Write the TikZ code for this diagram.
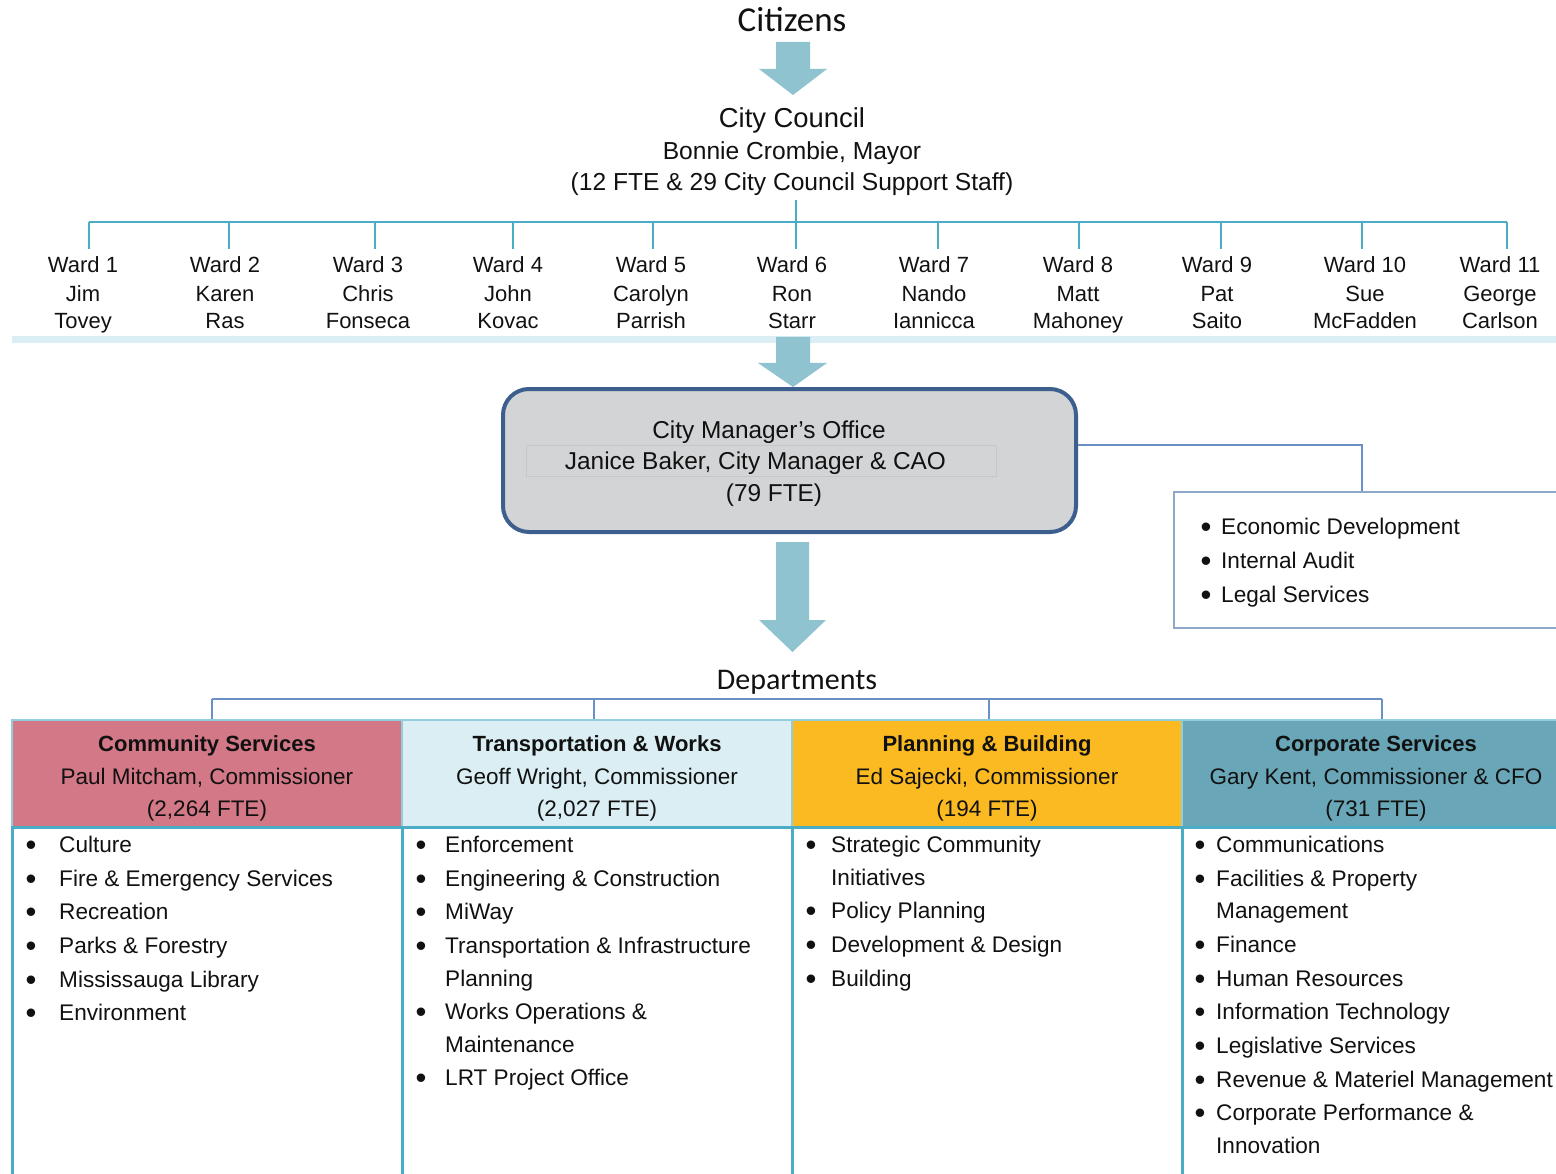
\documentclass[tikz,border=0pt]{standalone}
\usepackage{fontspec}
\setmainfont{Liberation Sans}
\newfontfamily\calib{Carlito}
\definecolor{arrowc}{HTML}{8FC3D0}
\definecolor{tlinec}{HTML}{4BACC6}
\definecolor{barc}{HTML}{DAEEF3}
\definecolor{cmofill}{HTML}{D3D4D6}
\definecolor{cmoline}{HTML}{3D5F8E}
\definecolor{sidelc}{HTML}{8EA8CC}
\definecolor{connc}{HTML}{6A90C6}
\definecolor{pinkc}{HTML}{D37887}
\definecolor{lightc}{HTML}{DAEEF3}
\definecolor{yellc}{HTML}{FBBA22}
\definecolor{tealc}{HTML}{69A7B8}
\definecolor{hdrline}{HTML}{92CDDC}
\definecolor{txtc}{HTML}{111111}
\begin{document}
\begin{tikzpicture}[x=1pt,y=-1pt,
  txt/.style={inner sep=0pt, anchor=base, text=txtc},
  ltxt/.style={inner sep=0pt, anchor=base west, text=txtc, font=\fontsize{22.6}{27}\selectfont},
  blt/.style={inner sep=0pt, anchor=base, text=txtc, font=\fontsize{31}{34}\selectfont, yshift=-3pt},
  wardf/.style={txt, font=\fontsize{22}{26}\selectfont},
  tline/.style={draw=tlinec, line width=2pt},
  dline/.style={draw=connc, line width=1.8pt},
  hdr/.style={draw=hdrline, line width=1.5pt, inner sep=0pt, minimum height=107pt},
  bodyl/.style={draw=tlinec, line width=3pt},
  blockarrow/.style={fill=arrowc}
]
\useasboundingbox (0,0) rectangle (1556,1174);

\newcommand{\itm}[5]{\node[blt] (#1b) at (#2,#4) {\textbullet}; \node[ltxt] (#1) at (#3,#4) {#5};}
\newcommand{\cnt}[4]{\node[ltxt] (#1) at (#2,#3) {#4};}
\newcommand{\wardn}[5]{\node[wardf] (#1a) at (#2,273) {#3}; \node[wardf] (#1b) at (#2,301.5) {#4}; \node[wardf] (#1c) at (#2,329) {#5};}

% Citizens
\node[txt, font=\calib\fontsize{35}{38}\selectfont] (cit) at (792,32) {Citizens};
\fill[blockarrow] (776,42) -- (810,42) -- (810,69) -- (827,69) -- (793,95) -- (759,69) -- (776,69) -- cycle;

% City Council
\node[txt, font=\fontsize{27.4}{32}\selectfont] (cc1) at (792,128) {City Council};
\node[txt, font=\fontsize{24.6}{29}\selectfont] (cc2) at (792,160) {Bonnie Crombie, Mayor};
\node[txt, font=\fontsize{24.6}{29}\selectfont] (cc3) at (792,191) {(12 FTE \& 29 City Council Support Staff)};

% Wards
\wardn{w1}{83}{Ward 1}{Jim}{Tovey}
\wardn{w2}{225}{Ward 2}{Karen}{Ras}
\wardn{w3}{368}{Ward 3}{Chris}{Fonseca}
\wardn{w4}{508}{Ward 4}{John}{Kovac}
\wardn{w5}{651}{Ward 5}{Carolyn}{Parrish}
\wardn{w6}{792}{Ward 6}{Ron}{Starr}
\wardn{w7}{934}{Ward 7}{Nando}{Iannicca}
\wardn{w8}{1078}{Ward 8}{Matt}{Mahoney}
\wardn{w9}{1217}{Ward 9}{Pat}{Saito}
\wardn{w10}{1365}{Ward 10}{Sue}{McFadden}
\wardn{w11}{1500}{Ward 11}{George}{Carlson}

\coordinate (ccb) at (796,200);
\coordinate (bus) at (796,222.5);
\draw[tline] (ccb) -- (bus);
\draw[tline] (89,222.5) -- (1507,222.5);
\foreach \wx/\wn in {89/w1,229/w2,375/w3,513/w4,653/w5,796/w6,938/w7,1079/w8,1221/w9,1362/w10,1507/w11}{
  \draw[tline] (\wx,222.5) -- (\wx,249);
}

% light bar
\fill[barc] (12,336) rectangle (1556,343);
\fill[blockarrow] (776,337) -- (810,337) -- (810,363) -- (827,363) -- (793,387) -- (758,363) -- (776,363) -- cycle;

% City Manager's Office
\node[draw=cmoline, fill=cmofill, line width=4pt, rounded corners=26pt, minimum width=573pt, minimum height=143pt, inner sep=0pt] (cmo) at (789.5,460.5) {};
\node[draw=black!22, fill=cmofill, line width=1pt, minimum width=470pt, minimum height=31pt, inner sep=0pt] (jbox) at (761,460.5) {};
\node[txt, font=\fontsize{24.4}{29}\selectfont] (cmo1) at (769,438) {City Manager’s Office};
\node[txt, font=\fontsize{24.4}{29}\selectfont] (cmo2) at (755.5,469) {Janice Baker, City Manager \& CAO};
\node[txt, font=\fontsize{24.4}{29}\selectfont] (cmo3) at (774,501) {(79 FTE)};

% side box
\node[draw=sidelc, line width=2pt, fill=white, minimum width=400pt, minimum height=136pt, inner sep=0pt] (side) at (1374,560) {};
\draw[connc, line width=1.5pt] (cmo.east |- 0,445) -| (1362,0 |- side.north);
\itm{s1}{1206}{1221}{534}{Economic Development}
\itm{s2}{1206}{1221}{568}{Internal Audit}
\itm{s3}{1206}{1221}{602}{Legal Services}

% arrow to departments
\fill[blockarrow] (776,542) -- (809,542) -- (809,620) -- (826,620) -- (792.5,652) -- (759,620) -- (776,620) -- cycle;
\node[txt, font=\calib\fontsize{30}{34}\selectfont] (dep) at (797,689) {Departments};

% department headers
\node[hdr, fill=pinkc, minimum width=390pt] (h1) at (207,773.5) {};
\node[hdr, fill=lightc, minimum width=390pt] (h2) at (597,773.5) {};
\node[hdr, fill=yellc, minimum width=390pt] (h3) at (987,773.5) {};
\node[hdr, fill=tealc, minimum width=390pt] (h4) at (1377,773.5) {};

\draw[dline] (212,699) -- (1382,699);
\foreach \dx/\hn in {212/h1,594/h2,989/h3,1382/h4}{
  \draw[dline] (\dx,699) -- (\dx,0 |- \hn.north);
}

\foreach \hx/\hn/\ta/\tb/\tc in {
  207/h1/Community Services/{Paul Mitcham, Commissioner}/{(2,264 FTE)},
  597/h2/Transportation \& Works/{Geoff Wright, Commissioner}/{(2,027 FTE)},
  987/h3/Planning \& Building/{Ed Sajecki, Commissioner}/{(194 FTE)},
  1376/h4/Corporate Services/{Gary Kent, Commissioner \& CFO}/{(731 FTE)}}{
  \node[txt, font=\bfseries\fontsize{22}{26}\selectfont] (\hn t) at (\hx,751) {\ta};
  \node[txt, font=\fontsize{22.5}{26}\selectfont] (\hn n) at (\hx,784) {\tb};
  \node[txt, font=\fontsize{22.5}{26}\selectfont] (\hn f) at (\hx,816) {\tc};
}

% body columns
\draw[bodyl] (12,1180) -- (12,827) -- (1570,827);
\draw[bodyl] (402,827) -- (402,1180);
\draw[bodyl] (792,827) -- (792,1180);
\draw[bodyl] (1182,827) -- (1182,1180);

% column 1
\itm{a1}{31}{59}{852}{Culture}
\itm{a2}{31}{59}{886}{Fire \& Emergency Services}
\itm{a3}{31}{59}{919}{Recreation}
\itm{a4}{31}{59}{953}{Parks \& Forestry}
\itm{a5}{31}{59}{987}{Mississauga Library}
\itm{a6}{31}{59}{1020}{Environment}

% column 2
\itm{b1}{421}{445}{852}{Enforcement}
\itm{b2}{421}{445}{886}{Engineering \& Construction}
\itm{b3}{421}{445}{919}{MiWay}
\itm{b4}{421}{445}{953}{Transportation \& Infrastructure}
\cnt{b4c}{445}{986}{Planning}
\itm{b5}{421}{445}{1019}{Works Operations \&}
\cnt{b5c}{445}{1052}{Maintenance}
\itm{b6}{421}{445}{1085}{LRT Project Office}

% column 3
\itm{c1}{811}{831}{852}{Strategic Community}
\cnt{c1c}{831}{885}{Initiatives}
\itm{c2}{811}{831}{918}{Policy Planning}
\itm{c3}{811}{831}{952}{Development \& Design}
\itm{c4}{811}{831}{986}{Building}

% column 4
\itm{d1}{1200}{1216}{852}{Communications}
\itm{d2}{1200}{1216}{886}{Facilities \& Property}
\cnt{d2c}{1216}{918}{Management}
\itm{d3}{1200}{1216}{952}{Finance}
\itm{d4}{1200}{1216}{986}{Human Resources}
\itm{d5}{1200}{1216}{1019}{Information Technology}
\itm{d6}{1200}{1216}{1053}{Legislative Services}
\itm{d7}{1200}{1216}{1087}{Revenue \& Materiel Management}
\itm{d8}{1200}{1216}{1120}{Corporate Performance \&}
\cnt{d8c}{1216}{1153}{Innovation}
\end{tikzpicture}
\end{document}
